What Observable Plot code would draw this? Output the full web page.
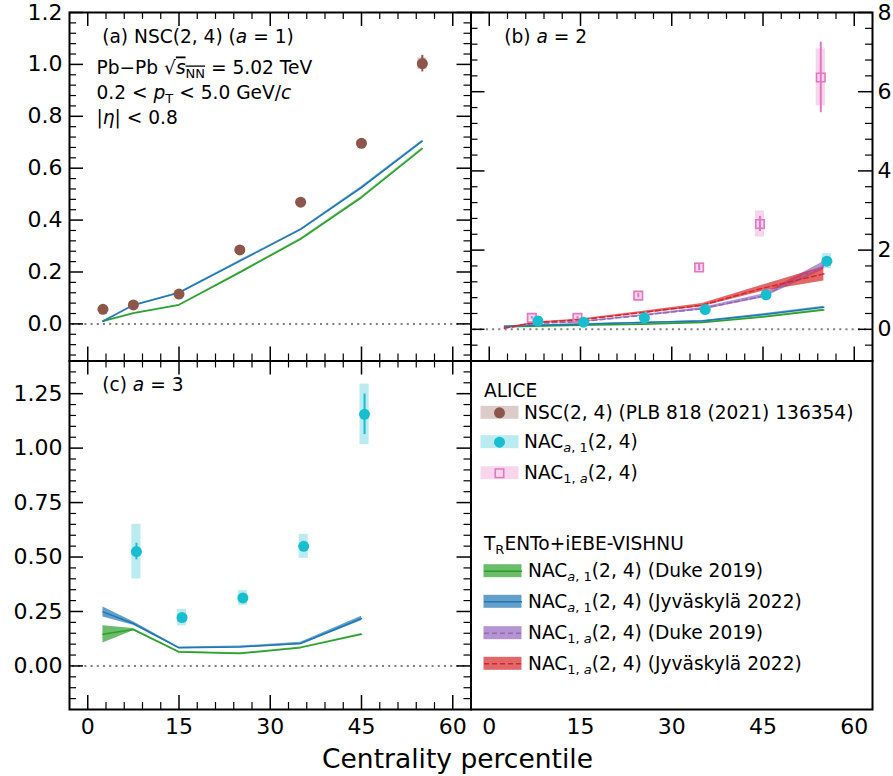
<!DOCTYPE html>
<html><head><meta charset="utf-8">
<script src="https://cdn.jsdelivr.net/npm/d3@7"></script>
<script src="https://cdn.jsdelivr.net/npm/@observablehq/plot@0.6"></script>
<style>
body{margin:0;background:#fff;}
#fig{position:relative;width:893px;height:776px;font-family:"DejaVu Sans",sans-serif;background:#fff;}
#fig svg{position:absolute;left:0;top:0;overflow:visible;}
#xlabel{position:absolute;left:11px;width:893px;text-align:center;top:746px;font-size:26.5px;line-height:26px;color:#000;}
</style></head><body>
<div id="fig"><div id="xlabel">Centrality percentile</div></div>
<script>
// ---------------- DATA ----------------
const xTicks = [0, 15, 30, 45, 60];
const yTicksA = [0, 0.2, 0.4, 0.6, 0.8, 1.0, 1.2];
const yTicksB = [0, 2, 4, 6, 8];
const yTicksC = [0, 0.25, 0.5, 0.75, 1.0, 1.25];

// panel (a): NSC(2,4), a = 1
const centA = [2.5, 7.5, 15, 25, 35, 45, 55];
const nscVal  = [0.056, 0.073, 0.115, 0.285, 0.469, 0.696, 1.003];
const nscStat = [0.003, 0.003, 0.003, 0.004, 0.005, 0.008, 0.032];
const nscSys  = [0.004, 0.004, 0.005, 0.006, 0.008, 0.012, 0.022];
const centModel = [2.5, 7.5, 15, 25, 35, 45, 55];
const aJyv      = [0.010, 0.072, 0.120, 0.242, 0.364, 0.525, 0.704];
const aJyvBand  = [0.002, 0.002, 0.002, 0.003, 0.003, 0.004, 0.004];
const aDuke     = [0.010, 0.041, 0.073, 0.198, 0.327, 0.487, 0.675];
const aDukeBand = [0.002, 0.002, 0.002, 0.003, 0.003, 0.004, 0.004];

// panel (b): a = 2
const centNacA1B = [8, 15.5, 25.5, 35.5, 45.5, 55.5];
const nacA1B     = [0.21, 0.18, 0.29, 0.50, 0.87, 1.72];
const nacA1BStat = [0.02, 0.02, 0.02, 0.03, 0.05, 0.08];
const nacA1BSys  = [0.05, 0.05, 0.05, 0.06, 0.08, 0.19];
const centNac1AB = [7, 14.5, 24.5, 34.5, 44.5, 54.5];
const nac1AB     = [0.29, 0.29, 0.85, 1.56, 2.66, 6.36];
const nac1ABStat = [0.03, 0.03, 0.05, 0.08, 0.19, 0.89];
const nac1ABSys  = [0.08, 0.08, 0.10, 0.12, 0.33, 0.72];
const bJyvA1      = [0.075, 0.10, 0.13, 0.17, 0.21, 0.37, 0.56];
const bJyvA1Band  = [0.01, 0.01, 0.01, 0.01, 0.015, 0.02, 0.02];
const bDukeA1     = [0.06, 0.08, 0.10, 0.13, 0.17, 0.31, 0.49];
const bDukeA1Band = [0.01, 0.01, 0.01, 0.01, 0.015, 0.02, 0.02];
const bDuke1A     = [0.03, 0.15, 0.19, 0.35, 0.52, 0.84, 1.61];
const bDuke1ABand = [0.01, 0.01, 0.015, 0.02, 0.03, 0.05, 0.10];
const bJyv1A      = [0.03, 0.17, 0.24, 0.42, 0.61, 1.04, 1.40];
const bJyv1ABand  = [0.01, 0.015, 0.02, 0.03, 0.04, 0.08, 0.18];

// panel (c): a = 3
const centNacA1C = [8, 15.5, 25.5, 35.5, 45.5];
const nacA1C     = [0.525, 0.222, 0.312, 0.549, 1.155];
const nacA1CStat = [0.038, 0.008, 0.008, 0.010, 0.093];
const nacA1CSys  = [0.125, 0.038, 0.034, 0.055, 0.139];
const centModelC = [2.5, 7.5, 15, 25, 35, 45];
const cJyv      = [0.248, 0.195, 0.083, 0.087, 0.103, 0.218];
const cJyvBand  = [0.023, 0.008, 0.004, 0.004, 0.006, 0.010];
const cDuke     = [0.145, 0.167, 0.064, 0.057, 0.084, 0.145];
const cDukeBand = [0.040, 0.005, 0.003, 0.003, 0.003, 0.004];

// legend
const aliceLabels = ["NSC(2, 4) (PLB 818 (2021) 136354)", "NAC<sub><i>a</i>, 1</sub>(2, 4)", "NAC<sub>1, <i>a</i></sub>(2, 4)"];
const modelLabels = ["NAC<sub><i>a</i>, 1</sub>(2, 4) (Duke 2019)", "NAC<sub><i>a</i>, 1</sub>(2, 4) (Jyväskylä 2022)",
                     "NAC<sub>1, <i>a</i></sub>(2, 4) (Duke 2019)", "NAC<sub>1, <i>a</i></sub>(2, 4) (Jyväskylä 2022)"];
const legendHeaders = ["ALICE", "T<sub>R</sub>ENTo+iEBE-VISHNU"];

// ---------------- STYLE / LAYOUT ----------------
const C = {brown:"#8c564b", cyan:"#17becf", pink:"#e377c2", green:"#2ca02c", blue:"#1f77b4", purple:"#9467bd", red:"#d62728"};
const aliceColors = [C.brown, C.cyan, C.pink];
const aliceSymbols = ["circle", "circle", "square"];
const modelColors = [C.green, C.blue, C.purple, C.red];
const modelDashed = [false, false, true, true];
const FW = 893, FH = 776;
const FR = {a:[69,470.5,12,360.5], b:[470.5,872,12,360.5], c:[69,470.5,360.5,709], d:[470.5,872,360.5,709]};
const LG = {hx:13, hy:[30, 183], aliceY:[51.8, 81.2, 112.2], modelY:[210.2, 240.8, 272.2, 302.8],
            sw1:[10,48], sw2:[13,51], mx:28.5, t1:53, t2:57, h:6.5};
const FS = 18.6, TFS = 22;
const XDOM = [-3, 63];

const pts = (xs, ys, st, sy) => xs.map((x,i)=>({x, y:ys[i], stat:st[i], sys:sy[i]}));
const curve = (xs, ys, bw) => xs.map((x,i)=>({x, y:ys[i], lo:ys[i]-bw[i], hi:ys[i]+bw[i]}));

function dataMarks(d, color, symbol) {
  return [
    Plot.rect(d, {x1:p=>p.x-0.75, x2:p=>p.x+0.75, y1:p=>p.y-p.sys, y2:p=>p.y+p.sys, fill:color, fillOpacity:0.3}),
    Plot.ruleX(d, {x:"x", y1:p=>p.y-p.stat, y2:p=>p.y+p.stat, stroke:color, strokeWidth:2}),
    symbol === "square"
      ? Plot.dot(d, {x:"x", y:"y", symbol:"square", r:4.8, stroke:color, strokeWidth:1.6, fill:"none"})
      : Plot.dot(d, {x:"x", y:"y", r:5.5, fill:color, stroke:"none"})
  ];
}
function bandMark(d, color) { return Plot.areaY(d, {x:"x", y1:"lo", y2:"hi", fill:color, fillOpacity:0.7}); }
function lineMark(d, color, dashed) {
  return Plot.line(d, {x:"x", y:"y", stroke:color, strokeWidth:1.5, strokeDasharray: dashed ? "5,3" : null});
}
function zeroLine() { return Plot.ruleY([0], {stroke:"#7f7f7f", strokeWidth:2, strokeDasharray:"2,4.2", insetLeft:3, insetRight:6}); }

function tickMarks(fr, yMajor, yMinor) {
  const iw = fr[1]-fr[0], ih = fr[3]-fr[2];
  const xMinor = d3.range(3, 63, 3).filter(v => v % 15 !== 0);
  const M = 14, m = 7;
  return [
    Plot.ruleX(xTicks, {x:v=>v, insetTop:ih-M, strokeWidth:1.5}),
    Plot.ruleX(xTicks, {x:v=>v, insetBottom:ih-M, strokeWidth:1.5}),
    Plot.ruleX(xMinor, {x:v=>v, insetTop:ih-m, strokeWidth:1.2}),
    Plot.ruleX(xMinor, {x:v=>v, insetBottom:ih-m, strokeWidth:1.2}),
    Plot.ruleY(yMajor, {y:v=>v, insetRight:iw-M, strokeWidth:1.5}),
    Plot.ruleY(yMajor, {y:v=>v, insetLeft:iw-M, strokeWidth:1.5}),
    Plot.ruleY(yMinor, {y:v=>v, insetRight:iw-m, strokeWidth:1.2}),
    Plot.ruleY(yMinor, {y:v=>v, insetLeft:iw-m, strokeWidth:1.2}),
    Plot.frame({stroke:"black", strokeWidth:2})
  ];
}
function note(fr, str, dx, dy) {
  return Plot.text([str], {text:d=>d, frameAnchor:"top-left", dx, dy, textAnchor:"start", lineAnchor:"middle", fontSize:FS, fill:"black"});
}
function makePlot(fr, x, y, marks) {
  return Plot.plot({
    width:FW, height:FH, marginLeft:fr[0], marginRight:FW-fr[1], marginTop:fr[2], marginBottom:FH-fr[3],
    x, y, style:{background:"transparent", overflow:"visible", fontFamily:"DejaVu Sans"}, marks
  });
}

// ---------------- PANEL A ----------------
const minorA = d3.range(-3, 30).filter(i => i % 5 !== 0).map(i => i*0.04);
const pA = makePlot(FR.a, {domain:XDOM, axis:null}, {domain:[-0.143, 1.2]}, [
  zeroLine(),
  bandMark(curve(centModel, aDuke, aDukeBand), C.green),
  bandMark(curve(centModel, aJyv, aJyvBand), C.blue),
  lineMark(curve(centModel, aDuke, aDukeBand), C.green),
  lineMark(curve(centModel, aJyv, aJyvBand), C.blue),
  ...dataMarks(pts(centA, nscVal, nscStat, nscSys), C.brown, "circle"),
  ...tickMarks(FR.a, yTicksA, minorA),
  Plot.axisY({anchor:"left", ticks:yTicksA, tickFormat:".1f", tickSize:0, tickPadding:7, fontSize:TFS, label:null}),
  note(FR.a, "(a) NSC(2, 4) (<i>a</i> = 1)", 32.7, 24.3),
  note(FR.a, "Pb−Pb √<ol><i>s</i><sub>NN</sub></ol> = 5.02 TeV", 27, 56),
  note(FR.a, "0.2 &lt; <i>p</i><sub>T</sub> &lt; 5.0 GeV/<i>c</i>", 27, 81),
  note(FR.a, "|<i>η</i>| &lt; 0.8", 27, 106)
]);

// ---------------- PANEL B ----------------
const minorB = d3.range(-1, 20).filter(i => i % 5 !== 0).map(i => i*0.4);
const pB = makePlot(FR.b, {domain:XDOM, axis:null}, {domain:[-0.8, 8]}, [
  zeroLine(),
  ...dataMarks(pts(centNac1AB, nac1AB, nac1ABStat, nac1ABSys), C.pink, "square").slice(0,1),
  ...dataMarks(pts(centNacA1B, nacA1B, nacA1BStat, nacA1BSys), C.cyan, "circle").slice(0,1),
  bandMark(curve(centModel, bDukeA1, bDukeA1Band), C.green),
  bandMark(curve(centModel, bJyvA1, bJyvA1Band), C.blue),
  bandMark(curve(centModel, bDuke1A, bDuke1ABand), C.purple),
  bandMark(curve(centModel, bJyv1A, bJyv1ABand), C.red),
  lineMark(curve(centModel, bDukeA1, bDukeA1Band), C.green),
  lineMark(curve(centModel, bJyvA1, bJyvA1Band), C.blue),
  lineMark(curve(centModel, bDuke1A, bDuke1ABand), C.purple, true),
  lineMark(curve(centModel, bJyv1A, bJyv1ABand), C.red, true),
  ...dataMarks(pts(centNac1AB, nac1AB, nac1ABStat, nac1ABSys), C.pink, "square").slice(1),
  ...dataMarks(pts(centNacA1B, nacA1B, nacA1BStat, nacA1BSys), C.cyan, "circle").slice(1),
  ...tickMarks(FR.b, yTicksB, minorB),
  Plot.axisY({anchor:"right", ticks:yTicksB, tickFormat:"d", tickSize:0, tickPadding:5, fontSize:TFS, label:null}),
  note(FR.b, "(b) <i>a</i> = 2", 33.3, 24.3)
]);

// ---------------- PANEL C ----------------
const minorC = d3.range(-3, 28).filter(i => i % 5 !== 0).map(i => i*0.05);
const pC = makePlot(FR.c, {domain:XDOM}, {domain:[-0.2, 1.4]}, [
  zeroLine(),
  ...dataMarks(pts(centNacA1C, nacA1C, nacA1CStat, nacA1CSys), C.cyan, "circle").slice(0,1),
  bandMark(curve(centModelC, cDuke, cDukeBand), C.green),
  bandMark(curve(centModelC, cJyv, cJyvBand), C.blue),
  lineMark(curve(centModelC, cDuke, cDukeBand), C.green),
  lineMark(curve(centModelC, cJyv, cJyvBand), C.blue),
  ...dataMarks(pts(centNacA1C, nacA1C, nacA1CStat, nacA1CSys), C.cyan, "circle").slice(1),
  ...tickMarks(FR.c, yTicksC, minorC),
  Plot.axisY({anchor:"left", ticks:yTicksC, tickFormat:".2f", tickSize:0, tickPadding:7, fontSize:TFS, label:null}),
  Plot.axisX({anchor:"bottom", ticks:xTicks, tickFormat:"d", tickSize:0, tickPadding:9, fontSize:TFS, label:null}),
  note(FR.c, "(c) <i>a</i> = 3", 32.7, 24.5)
]);

// ---------------- PANEL D (legend) + x axis of right column ----------------
const legendMarks = [];
legendHeaders.forEach((h, i) => legendMarks.push(
  Plot.text([h], {text:d=>d, x:LG.hx, y:LG.hy[i], textAnchor:"start", lineAnchor:"middle", fontSize:FS, fill:"black"})));
aliceLabels.forEach((lab, i) => {
  const y = LG.aliceY[i], col = aliceColors[i];
  legendMarks.push(Plot.rect([0], {x1:LG.sw1[0], x2:LG.sw1[1], y1:y-LG.h, y2:y+LG.h, fill:col, fillOpacity:0.3}));
  legendMarks.push(aliceSymbols[i] === "square"
    ? Plot.dot([0], {x:LG.mx, y, symbol:"square", r:4.8, stroke:col, strokeWidth:1.6, fill:"none"})
    : Plot.dot([0], {x:LG.mx, y, r:5.5, fill:col}));
  legendMarks.push(Plot.text([lab], {text:d=>d, x:LG.t1, y, textAnchor:"start", lineAnchor:"middle", fontSize:FS, fill:"black"}));
});
modelLabels.forEach((lab, i) => {
  const y = LG.modelY[i], col = modelColors[i];
  legendMarks.push(Plot.rect([0], {x1:LG.sw2[0], x2:LG.sw2[1], y1:y-LG.h, y2:y+LG.h, fill:col, fillOpacity:0.7}));
  legendMarks.push(Plot.link([0], {x1:LG.sw2[0], x2:LG.sw2[1], y1:y, y2:y, stroke:col, strokeWidth:1.5, strokeDasharray: modelDashed[i] ? "5,3" : null}));
  legendMarks.push(Plot.text([lab], {text:d=>d, x:LG.t2, y, textAnchor:"start", lineAnchor:"middle", fontSize:FS, fill:"black"}));
});
const iwD = FR.d[1]-FR.d[0], ihD = FR.d[3]-FR.d[2];
const pD = makePlot(FR.d, {domain:[0, iwD], axis:null}, {domain:[0, ihD], reverse:true, axis:null}, [
  ...legendMarks,
  Plot.frame({stroke:"black", strokeWidth:2})
]);
// x axis labels below right column (same centrality scale)
const pDx = makePlot(FR.d, {domain:XDOM}, {domain:[0,1], axis:null}, [
  Plot.axisX({anchor:"bottom", ticks:xTicks, tickFormat:"d", tickSize:0, tickPadding:9, fontSize:TFS, label:null})
]);

// ---------------- assemble + rich text ----------------
function rich(svg) {
  svg.querySelectorAll("text").forEach(t => {
    const s = t.textContent;
    if (!/[<&]/.test(s)) return;
    t.innerHTML = s
      .replace(/<sub>/g, '<tspan baseline-shift="-3.6px" font-size="70%">')
      .replace(/<\/sub>/g, '</tspan>')
      .replace(/<i>/g, '<tspan font-style="italic">')
      .replace(/<\/i>/g, '</tspan>')
      .replace(/<ol>/g, '<tspan text-decoration="overline">')
      .replace(/<\/ol>/g, '</tspan>');
  });
}
const fig = document.getElementById("fig");
[pA, pB, pC, pD, pDx].forEach(p => { rich(p); fig.appendChild(p); });
</script>
</body></html>
